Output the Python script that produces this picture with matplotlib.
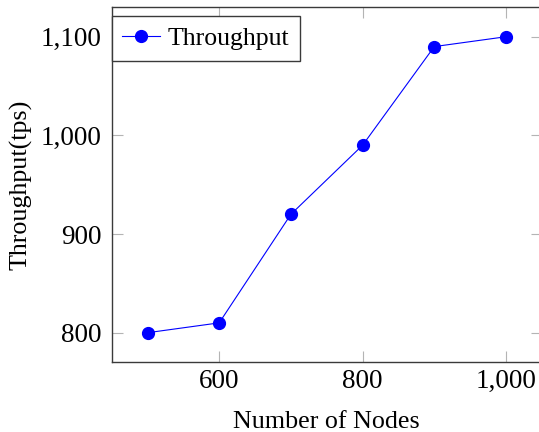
import matplotlib
matplotlib.use("Agg")
import matplotlib.pyplot as plt
from matplotlib.ticker import FuncFormatter

# data
nodes = [500, 600, 700, 800, 900, 1000]
throughput = [800, 810, 920, 990, 1090, 1100]

x_ticks = [600, 800, 1000]
y_ticks = [800, 900, 1000, 1100]

plt.rcParams["font.family"] = ["Liberation Serif", "DejaVu Serif"]
plt.rcParams["font.size"] = 18.5

fig = plt.figure(figsize=(5.39, 4.32), dpi=100)
ax = fig.add_axes([0.2072, 0.1613, 0.798, 0.8222])

ax.plot(
    nodes,
    throughput,
    color="#0000ff",
    linewidth=0.8,
    marker="o",
    markersize=8.5,
    label="Throughput"
)

ax.set_xlim(450, 1050)
ax.set_ylim(770, 1130)

ax.set_xticks(x_ticks)
ax.set_yticks(y_ticks)

comma = FuncFormatter(lambda v, p: f"{int(v):,}")
ax.xaxis.set_major_formatter(comma)
ax.yaxis.set_major_formatter(comma)

ax.tick_params(
    direction="in",
    length=8,
    width=0.8,
    color="#b4b4b4",
    top=True,
    right=True,
    labelsize=19.5
)
ax.tick_params(axis="x", pad=5)
ax.tick_params(axis="y", pad=7)

for s in ax.spines.values():
    s.set_color("#3a3a3a")
    s.set_linewidth(1.0)

ax.set_xlabel("Number of Nodes", fontsize=18.7, labelpad=12)
ax.set_ylabel("Throughput(tps)", fontsize=18.7, labelpad=6)

leg = ax.legend(
    loc="upper left",
    bbox_to_anchor=(0.0, 0.975),
    fancybox=False,
    framealpha=1,
    edgecolor="#3a3a3a",
    handlelength=1.45,
    handletextpad=0.3,
    borderpad=0.42,
    borderaxespad=0.0,
    fontsize=18.5
)
leg.get_frame().set_linewidth(1.0)

plt.savefig("out.png", dpi=100)
